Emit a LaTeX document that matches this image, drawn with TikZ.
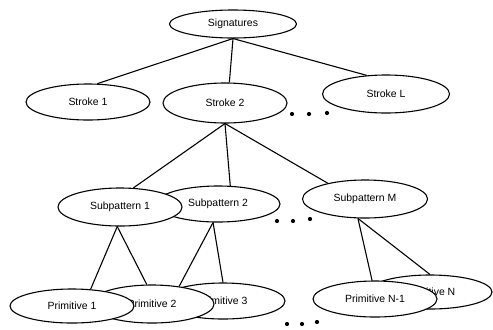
\documentclass[tikz,border=0pt]{standalone}
\usepackage{fontspec}
\setmainfont{Liberation Sans}
\usetikzlibrary{shapes.geometric}
\begin{document}
\begin{tikzpicture}[x=1bp,y=-1bp,line width=1.1bp,
  ell/.style={shape=ellipse,draw=black,fill=white,inner sep=0pt,minimum width=124bp,minimum height=36bp,font=\fontsize{10.5}{12}\selectfont},
  blob/.style={shape=circle,fill=black,inner sep=0pt,minimum size=4.2bp}]
 \useasboundingbox (0,0) rectangle (493,329);
 \node (sig) at (233,24) [ell,minimum width=127bp,minimum height=28bp] {Signatures};
 \node (strk 1) at (88,102) [ell] {Stroke 1};
 \node (strk 2) at (225,103) [ell,minimum height=40bp] {Stroke 2};
 \node (strk L) at (386,94) [ell,minimum width=127bp,minimum height=38bp] {Stroke L};
 \node (sub 2) at (218,204) [ell] {Subpattern 2};
 \node (sub 1) at (120,207) [ell,minimum height=38bp] {Subpattern 1};
 \node (sub M) at (365,199) [ell,minimum width=125bp,minimum height=38bp] {Subpattern M};
 \node (prim 3) at (223,301) [ell] {Primitive 3};
 \node (prim 2) at (152,304) [ell,minimum height=38bp] {Primitive 2};
 \node (prim 1) at (72,306) [ell,minimum height=34bp] {Primitive 1};
 \node (prim N) at (430,292) [ell,minimum height=34bp] {Primitive N};
 \node (prim N1) at (375,299) [ell] {Primitive N-1};
 \node (dot 1) at (292,114) [blob] {};
 \node (dot 2) at (309,114) [blob] {};
 \node (dot 3) at (327,113) [blob] {};
 \node (dot 4) at (277,221) [blob] {};
 \node (dot 5) at (293,221) [blob] {};
 \node (dot 6) at (310,219) [blob] {};
 \node (dot 7) at (287,324) [blob] {};
 \node (dot 8) at (302,324) [blob] {};
 \node (dot 9) at (317,322) [blob] {};
 \draw (sig.south) -- (strk 1.63);
 \draw (sig.south) -- (strk 2.78);
 \draw (sig.south) -- (strk L.136);
 \draw (strk 2.south) -- (sub 1.55);
 \draw (strk 2.south) -- (sub 2.56);
 \draw (strk 2.south) -- (sub M.157);
 \draw (sub 1.-98) -- (prim 1.42);
 \draw (sub 1.-98) -- (prim 2.105);
 \draw (sub 2.-105) -- (prim 2.33);
 \draw (sub 2.-105) -- (prim 3.north);
 \draw (sub M.-110) -- (prim N1.99);
 \draw (sub M.-110) -- (prim N.north);
\end{tikzpicture}
\end{document}
